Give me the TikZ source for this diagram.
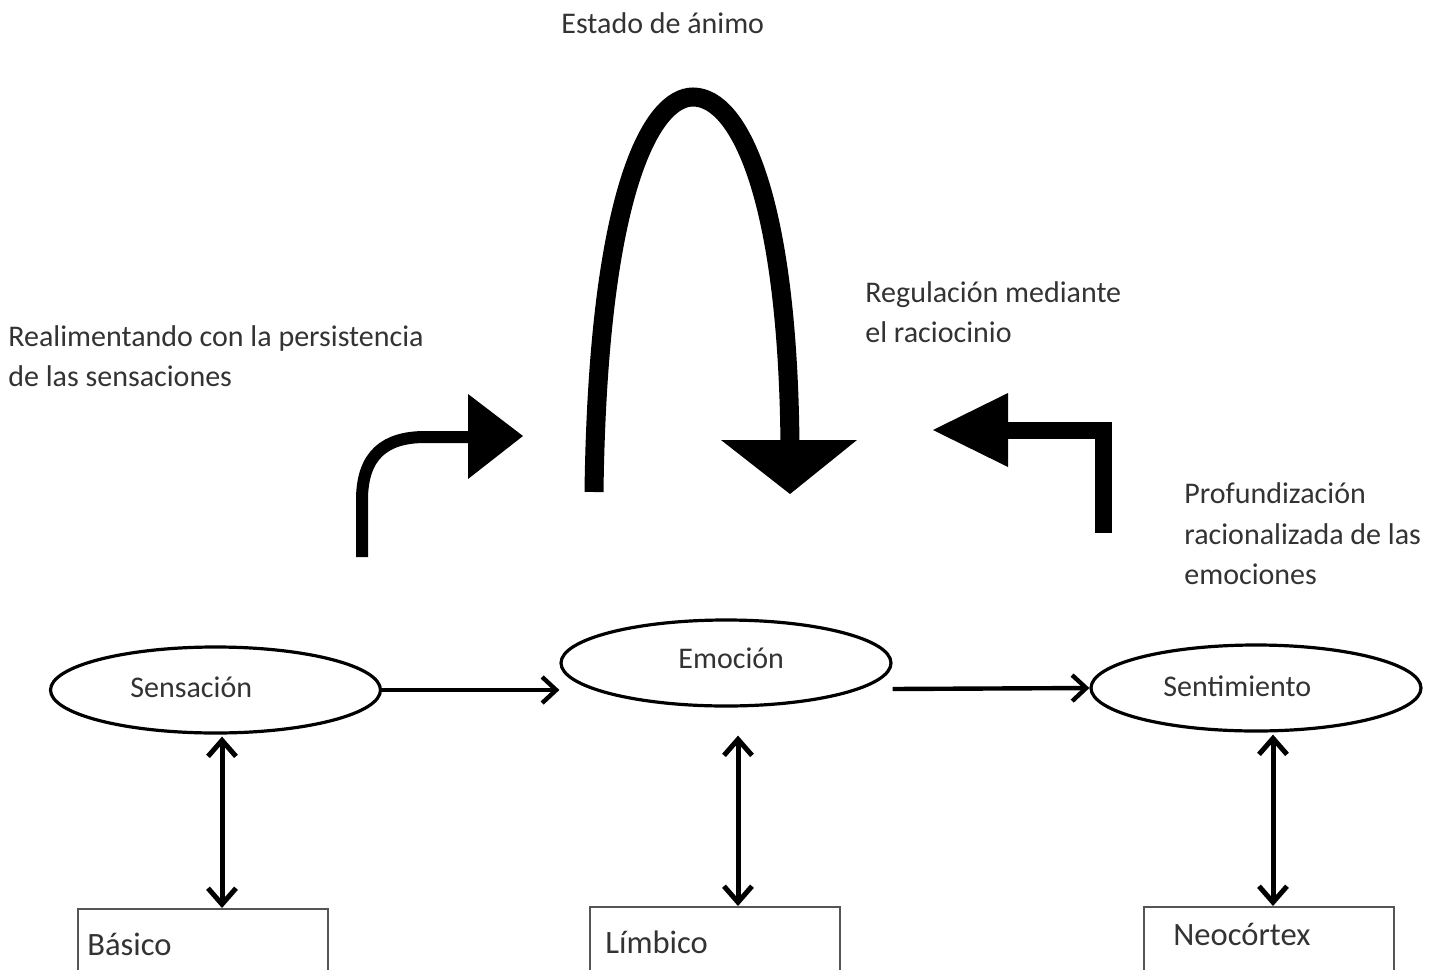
\documentclass[tikz,border=0pt]{standalone}
\usepackage{fontspec}
\setmainfont{Carlito}
\usetikzlibrary{arrows.meta,shapes.geometric,calc}
\definecolor{txt}{HTML}{333333}
\definecolor{boxline}{HTML}{555555}
\begin{document}
\begin{tikzpicture}[x=0.5pt,y=-0.5pt,
  lbl/.style={anchor=base west,inner sep=0pt,text=txt,font=\fontsize{15}{20}\selectfont},
  elbl/.style={anchor=base west,inner sep=0pt,text=txt,font=\fontsize{15}{18}\selectfont},
  blbl/.style={anchor=base west,inner sep=0pt,text=txt,font=\fontsize{16.3}{19}\selectfont},
  oval/.style={ellipse,draw=black,line width=1.6pt,minimum width=165pt,minimum height=43pt,inner sep=0pt},
  levelbox/.style={rectangle,draw=boxline,line width=1pt,minimum width=125pt,minimum height=50pt,inner sep=0pt,anchor=north west},
  flow/.style={line width=2.2pt,-{Straight Barb[length=7pt,width=13pt,line width=2.2pt]}},
  both/.style={line width=2.5pt,{Straight Barb[length=8pt,width=14pt,line width=2.5pt]}-{Straight Barb[length=8pt,width=14pt,line width=2.5pt]}},
  bigline/.style={line width=#1,draw=black},
  head/.style={fill=black}]
\useasboundingbox (0,0) rectangle (1432,970);
\clip (0,0) rectangle (1432,970);
\fill[white] (0,0) rectangle (1432,970);

% top labels
\node[lbl] (estado) at (561,33) {Estado de ánimo};
\node[lbl] (reg1) at (865,302) {Regulación mediante};
\node[lbl] (reg2) at (865,342) {el raciocinio};
\node[lbl] (real1) at (8,346) {Realimentando con la persistencia};
\node[lbl] (real2) at (8,386) {de las sensaciones};
\node[lbl] (prof1) at (1184,503) {Profundización};
\node[lbl] (prof2) at (1184,544) {racionalizada de las};
\node[lbl] (prof3) at (1184,584) {emociones};

% big arch arrow
\draw[bigline=9.5pt] (594,492) .. controls (598,190) and (652,97) .. (693,97)
   .. controls (740,97) and (788,200) .. (790,446);
\fill[head] (721,440) -- (857,440) -- (790,494) -- cycle;

% left bent arrow
\draw[bigline=6pt] (362,557) -- (362,500) .. controls (362,455) and (385,437) .. (425,437) -- (470,437);
\fill[head] (468,394) -- (468,479) -- (523,436) -- cycle;

% right bent arrow
\draw[bigline=8.5pt,line join=miter] (1103,533) -- (1103,430) -- (1005,430);
\fill[head] (1008,393) -- (1008,467) -- (933,430) -- cycle;

% ellipses
\node[oval] (sens) at (215.5,690) {};
\node[oval] (emo) at (726,663) {};
\node[oval] (sent) at (1256,688) {};
\node[elbl] (sensT) at (130,697) {Sensación};
\node[elbl] (emoT) at (678,668) {Emoción};
\node[elbl] (sentT) at (1163,696) {Sentimiento};

% boxes
\node[levelbox] (bas) at (77,908) {};
\node[levelbox] (lim) at (589,906) {};
\node[levelbox] (neo) at (1143,906) {};
\node[blbl] (basT) at (87,955) {Básico};
\node[blbl] (limT) at (605,953) {Límbico};
\node[blbl] (neoT) at (1173,945) {Neocórtex};

% horizontal arrows
\coordinate (h1) at ($(emo.west)+(0,27)$);
\coordinate (h2) at ($(emo.east)+(0,26)$);
\draw[flow] (sens.east) -- (h1);
\draw[flow] (h2) -- (sent.west);

% vertical double arrows
\coordinate (v1a) at ($(sens.south)+(6.5,2)$);
\coordinate (v1b) at (v1a |- bas.north);
\coordinate (v2a) at ($(emo.south)+(12,28)$);
\coordinate (v2b) at (v2a |- lim.north);
\coordinate (v3a) at ($(sent.south)+(17,2)$);
\coordinate (v3b) at (v3a |- neo.north);
\draw[both] (v1a) -- (v1b);
\draw[both] (v2a) -- (v2b);
\draw[both] (v3a) -- (v3b);
\end{tikzpicture}
\end{document}
